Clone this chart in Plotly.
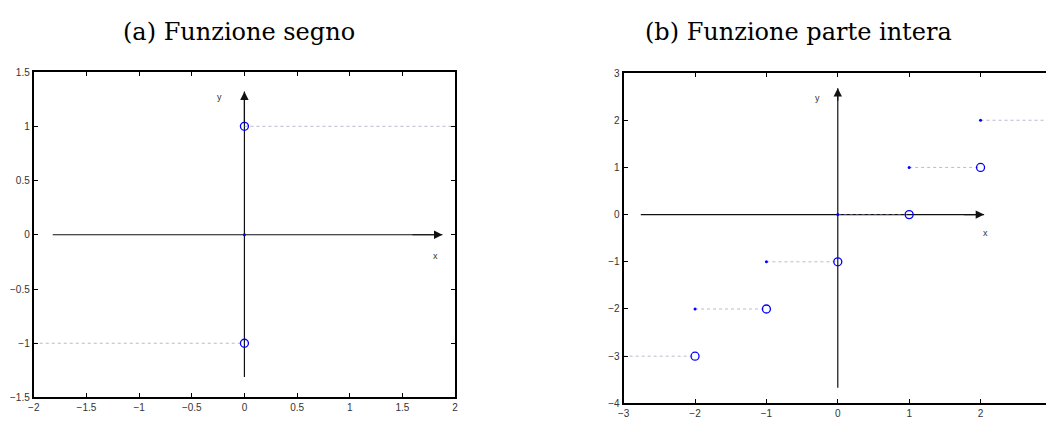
import plotly.graph_objects as go

# ---- data: sign function ----
sign_seg_x0 = [-2, 0]
sign_seg_x1 = [0, 2]
sign_seg_y = [-1, 1]
sign_open_x = [0, 0]
sign_open_y = [-1, 1]
sign_closed_x = [0]
sign_closed_y = [0]

# ---- data: floor function ----
floor_seg_x0 = [-3, -2, -1, 0, 1, 2]
floor_seg_x1 = [-2, -1, 0, 1, 2, 3]
floor_seg_y = [-3, -2, -1, 0, 1, 2]
floor_open_x = [-2, -1, 0, 1, 2, 3]
floor_open_y = [-3, -2, -1, 0, 1, 2]
floor_closed_x = [-2, -1, 0, 1, 2]
floor_closed_y = [-2, -1, 0, 1, 2]

# axis arrows (extent) for each panel
a_xaxis = [-1.82, 1.88]
a_yaxis = [-1.31, 1.32]
b_xaxis = [-2.76, 2.05]
b_yaxis = [-3.67, 2.68]

a_xticks = [-2, -1.5, -1, -0.5, 0, 0.5, 1, 1.5, 2]
a_xticklabels = ["\u22122", "\u22121.5", "\u22121", "\u22120.5", "0", "0.5", "1", "1.5", "2"]
a_yticks = [-1.5, -1, -0.5, 0, 0.5, 1, 1.5]
a_yticklabels = ["\u22121.5", "\u22121", "\u22120.5", "0", "0.5", "1", "1.5"]
b_xticks = [-3, -2, -1, 0, 1, 2, 3]
b_xticklabels = ["\u22123", "\u22122", "\u22121", "0", "1", "2", "3"]
b_yticks = [-4, -3, -2, -1, 0, 1, 2, 3]
b_yticklabels = ["\u22124", "\u22123", "\u22122", "\u22121", "0", "1", "2", "3"]

titles = ["(a) Funzione segno", "(b) Funzione parte intera"]

DOT = "rgba(150,135,175,0.6)"
BLUE = "#0000ff"
AXC = "#111"
fig = go.Figure()

def add_panel(xa, ya, sx0, sx1, sy, ox, oy, cx, cy, axx, axy):
    fig.add_trace(go.Scatter(x=[axx[0], axx[1]], y=[0, 0], mode="lines",
                             line=dict(color=AXC, width=1.2), xaxis=xa, yaxis=ya,
                             showlegend=False, hoverinfo="skip"))
    fig.add_trace(go.Scatter(x=[0, 0], y=[axy[0], axy[1]], mode="lines",
                             line=dict(color=AXC, width=1.2), xaxis=xa, yaxis=ya,
                             showlegend=False, hoverinfo="skip"))
    for x0, x1, y in zip(sx0, sx1, sy):
        fig.add_trace(go.Scatter(x=[x0, x1], y=[y, y], mode="lines",
                                 line=dict(color=DOT, width=1, dash="dot"),
                                 xaxis=xa, yaxis=ya, showlegend=False, hoverinfo="skip"))
    fig.add_trace(go.Scatter(x=ox, y=oy, mode="markers",
                             marker=dict(symbol="circle-open", size=8, color=BLUE,
                                         line=dict(width=1.3, color=BLUE)),
                             xaxis=xa, yaxis=ya, showlegend=False))
    fig.add_trace(go.Scatter(x=cx, y=cy, mode="markers",
                             marker=dict(symbol="circle", size=3, color=BLUE),
                             xaxis=xa, yaxis=ya, showlegend=False))

add_panel("x", "y", sign_seg_x0, sign_seg_x1, sign_seg_y, sign_open_x, sign_open_y,
          sign_closed_x, sign_closed_y, a_xaxis, a_yaxis)
add_panel("x2", "y2", floor_seg_x0, floor_seg_x1, floor_seg_y, floor_open_x, floor_open_y,
          floor_closed_x, floor_closed_y, b_xaxis, b_yaxis)

tickfont = dict(family="Liberation Sans, Arial, sans-serif", size=10, color="#333")
common = dict(showgrid=False, zeroline=False, showline=True, linecolor="#000", linewidth=2,
              ticks="inside", ticklen=4, tickwidth=1, tickcolor="#000", tickfont=tickfont)

fig.update_layout(
    width=1049, height=421, margin=dict(l=0, r=0, t=0, b=0),
    paper_bgcolor="white", plot_bgcolor="white", showlegend=False,
    xaxis=dict(domain=[0.0267, 0.4318], range=[-2, 2], tickvals=a_xticks,
               ticktext=a_xticklabels, mirror="allticks", anchor="y", **common),
    yaxis=dict(domain=[0.0428, 0.8385], range=[-1.5, 1.5], tickvals=a_yticks,
               ticktext=a_yticklabels, mirror="allticks", anchor="x", **common),
    xaxis2=dict(domain=[0.5939, 1.0], range=[-3, 2.917], tickvals=b_xticks,
                ticktext=b_xticklabels, mirror="allticks", anchor="y2", **common),
    yaxis2=dict(domain=[0.0285, 0.836], range=[-4, 3], tickvals=b_yticks,
                ticktext=b_yticklabels, mirror=False, anchor="x2", **common),
)

labfont = dict(family="Liberation Sans, Arial, sans-serif", size=9, color="#333")
ann = []
for xr, yr, axx, axy in [("x", "y", a_xaxis, a_yaxis), ("x2", "y2", b_xaxis, b_yaxis)]:
    ann.append(dict(x=axx[1], y=0, ax=axx[1] - 0.3, ay=0, xref=xr, yref=yr,
                    axref=xr, ayref=yr, showarrow=True, arrowhead=2, arrowsize=1.4,
                    arrowwidth=1.2, arrowcolor=AXC, text="", standoff=0))
    ann.append(dict(x=0, y=axy[1], ax=0, ay=axy[1] - 0.3, xref=xr, yref=yr,
                    axref=xr, ayref=yr, showarrow=True, arrowhead=2, arrowsize=1.4,
                    arrowwidth=1.2, arrowcolor=AXC, text="", standoff=0))
ann += [
    dict(x=1.81, y=-0.2, xref="x", yref="y", text="x", showarrow=False, font=labfont),
    dict(x=-0.24, y=1.27, xref="x", yref="y", text="y", showarrow=False, font=labfont),
    dict(x=2.07, y=-0.39, xref="x2", yref="y2", text="x", showarrow=False, font=labfont),
    dict(x=-0.29, y=2.47, xref="x2", yref="y2", text="y", showarrow=False, font=labfont),
]
tfont = dict(family="DejaVu Serif, Liberation Serif, serif", size=24, color="#000")
ann += [
    dict(x=0.224, y=0.936, xref="paper", yref="paper", xanchor="center", yanchor="middle",
         text=titles[0], showarrow=False, font=tfont),
    dict(x=0.762, y=0.936, xref="paper", yref="paper", xanchor="center", yanchor="middle",
         text=titles[1], showarrow=False, font=tfont),
]
fig.update_layout(annotations=ann)

fig.write_html("out.html")
